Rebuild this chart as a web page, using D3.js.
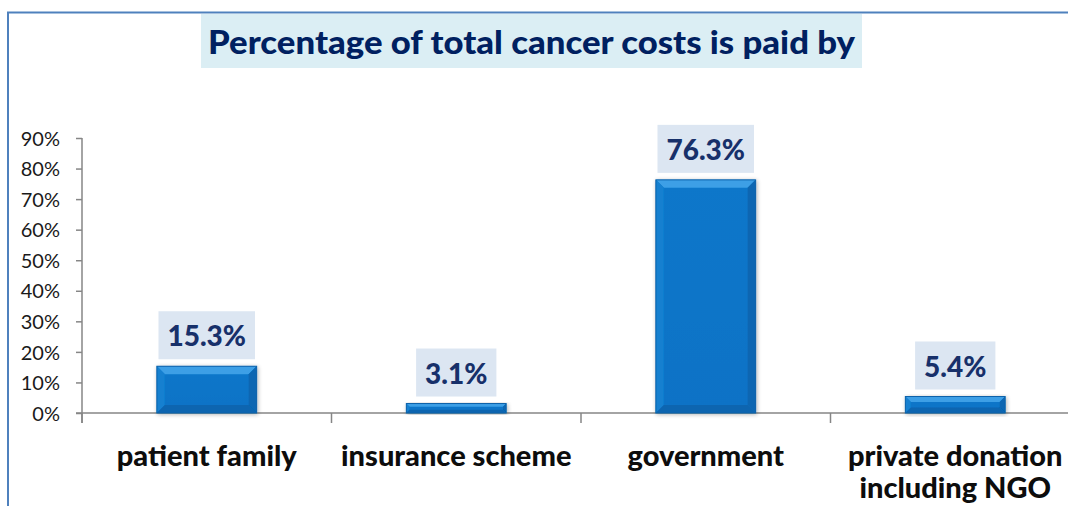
<!DOCTYPE html>
<html>
<head>
<meta charset="utf-8">
<script src="https://cdn.jsdelivr.net/npm/d3@7"></script>
<style>
  html, body { margin: 0; padding: 0; background: #fff; }
  svg { display: block; }
</style>
</head>
<body>
<svg id="chart" width="1068" height="506"></svg>
<script>
// ---- data ----
const categories = ["patient family", "insurance scheme", "government", "private donation including NGO"];
const categoryLines = [["patient family"], ["insurance scheme"], ["government"], ["private donation", "including NGO"]];
const values = [0.153, 0.031, 0.763, 0.054];
const valueLabels = ["15.3%", "3.1%", "76.3%", "5.4%"];
const yTicks = [0, 0.1, 0.2, 0.3, 0.4, 0.5, 0.6, 0.7, 0.8, 0.9];
const titleText = "Percentage of total cancer costs is paid by";

const svg = d3.select("#chart");
const FONT = "Lato, 'Open Sans', 'Liberation Sans', sans-serif";

// outer frame
svg.append("path")
  .attr("d", "M8,506 V12.5 H1068")
  .attr("fill", "none").attr("stroke", "#4f81bd").attr("stroke-width", 2);

// title
svg.append("rect").attr("x", 201).attr("y", 14).attr("width", 661).attr("height", 54).attr("fill", "#dbeef4");
svg.append("text").attr("x", 531.5).attr("y", 54).attr("text-anchor", "middle")
  .attr("font-family", FONT).attr("font-weight", 900).attr("font-size", 32)
  .attr("fill", "#002060").attr("textLength", 647).attr("lengthAdjust", "spacingAndGlyphs")
  .text(titleText);

// scales
const x = d3.scaleBand().domain(categories).range([82, 1080]).padding(0);
const y = d3.scaleLinear().domain([0, 0.9]).range([413, 138]);
const barW = x.bandwidth() * 0.4;

// defs: shadow
const defs = svg.append("defs");
const f = defs.append("filter").attr("id", "shadow").attr("x", "-20%").attr("y", "-20%").attr("width", "140%").attr("height", "140%");
f.append("feGaussianBlur").attr("in", "SourceAlpha").attr("stdDeviation", 2).attr("result", "b");
f.append("feOffset").attr("in", "b").attr("dx", 1).attr("dy", 1).attr("result", "o");
f.append("feComponentTransfer").attr("in", "o").attr("result", "o2")
  .append("feFuncA").attr("type", "linear").attr("slope", 0.3);
const m = f.append("feMerge");
m.append("feMergeNode").attr("in", "o2");
m.append("feMergeNode").attr("in", "SourceGraphic");

const gFace = defs.append("linearGradient").attr("id", "face").attr("x1", 0).attr("x2", 0).attr("y1", 0).attr("y2", 1);
gFace.append("stop").attr("offset", "0%").attr("stop-color", "#0b77ca");
gFace.append("stop").attr("offset", "100%").attr("stop-color", "#0872c6");

// y axis
const yAxis = d3.axisLeft(y).tickValues(yTicks).tickFormat(d3.format(".0%")).tickSize(6).tickPadding(16);
const gy = svg.append("g").attr("transform", "translate(82,0)").call(yAxis);
gy.select(".domain").attr("stroke", "#868686").attr("stroke-width", 1.5).attr("d", "M0,138 V423");
gy.selectAll(".tick line").attr("stroke", "#868686").attr("stroke-width", 1.5);
gy.selectAll(".tick text").attr("font-family", FONT).attr("font-size", 20).attr("fill", "#1a1a1a").attr("dy", "0.36em");

// x axis
const xAxis = d3.axisBottom(x).tickSize(0).tickFormat("");
const gx = svg.append("g").attr("transform", "translate(0,413)").call(xAxis);
gx.select(".domain").attr("stroke", "#868686").attr("stroke-width", 1.5).attr("d", "M76,0 H1068");
gx.selectAll(".tick").remove();
svg.append("g").selectAll("line").data(categories).join("line")
  .attr("x1", d => x(d)).attr("x2", d => x(d)).attr("y1", 413).attr("y2", 423)
  .attr("stroke", "#868686").attr("stroke-width", 1.5);

// bars with bevel
const bars = svg.append("g").selectAll("g").data(categories).join("g").attr("filter", "url(#shadow)");
bars.each(function(d, i) {
  const g = d3.select(this);
  const x0 = x(d) + (x.bandwidth() - barW) / 2, x1 = x0 + barW;
  const y0 = y(values[i]), y1 = y(0);
  const h = y1 - y0;
  const b = Math.min(8, h / 3);
  g.append("rect").attr("x", x0).attr("y", y0).attr("width", barW).attr("height", h).attr("fill", "url(#face)");
  g.append("path").attr("d", `M${x0},${y0} H${x1} L${x1 - b},${y0 + b} H${x0 + b} Z`).attr("fill", "#3c9fe6");
  g.append("path").attr("d", `M${x0},${y0} L${x0 + b},${y0 + b} V${y1 - b} L${x0},${y1} Z`).attr("fill", "#1480d0");
  g.append("path").attr("d", `M${x1},${y0} L${x1 - b},${y0 + b} V${y1 - b} L${x1},${y1} Z`).attr("fill", "#0766b2");
  g.append("path").attr("d", `M${x0},${y1} L${x0 + b},${y1 - b} H${x1 - b} L${x1},${y1} Z`).attr("fill", "#0865b0");
  g.append("rect").attr("x", x0).attr("y", y0).attr("width", barW).attr("height", h)
    .attr("fill", "none").attr("stroke", "#0a62aa").attr("stroke-width", 1);
});

// value labels
const lab = svg.append("g").selectAll("g").data(categories).join("g");
lab.each(function(d, i) {
  const g = d3.select(this);
  const cx = x(d) + x.bandwidth() / 2;
  const bottom = y(values[i]) - 7;
  const t = g.append("text").attr("x", cx).attr("y", bottom - 13).attr("text-anchor", "middle")
    .attr("font-family", FONT).attr("font-weight", 900).attr("font-size", 28).attr("fill", "#17306a")
    .text(valueLabels[i]);
  const w = t.node().getComputedTextLength();
  g.insert("rect", "text").attr("x", cx - w / 2 - 9).attr("y", bottom - 48).attr("width", w + 18).attr("height", 48)
    .attr("fill", "#dce6f2");
});

// category labels
const cl = svg.append("g").selectAll("text").data(categories).join("text")
  .attr("x", d => x(d) + x.bandwidth() / 2).attr("y", 466).attr("text-anchor", "middle")
  .attr("font-family", FONT).attr("font-weight", 900).attr("font-size", 29).attr("fill", "#0d0d0d");
cl.each(function(d, i) {
  const t = d3.select(this);
  categoryLines[i].forEach((line, k) => {
    t.append("tspan").attr("x", x(d) + x.bandwidth() / 2).attr("dy", k === 0 ? 0 : 32).text(line);
  });
});
</script>
</body>
</html>
